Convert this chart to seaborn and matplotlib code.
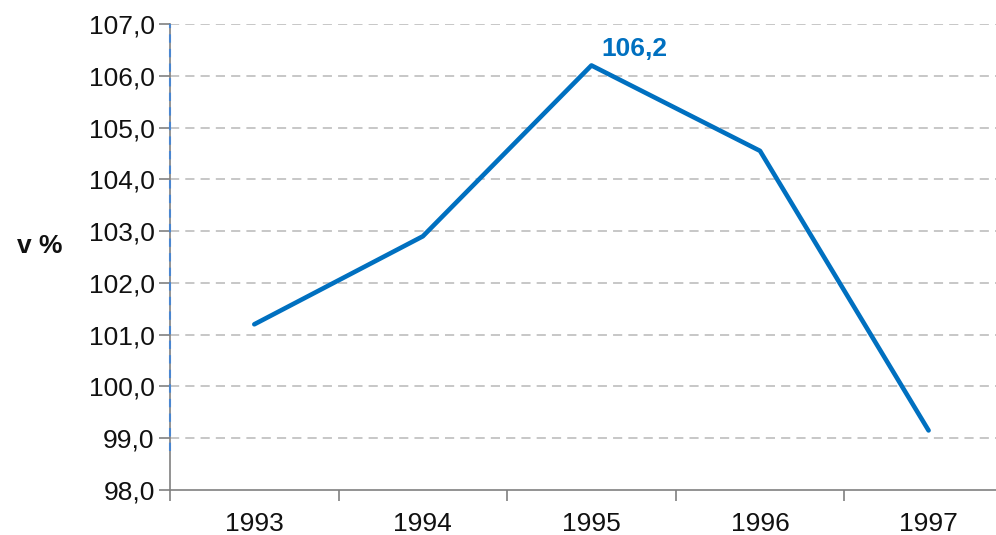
import matplotlib
matplotlib.use("Agg")
import matplotlib.pyplot as plt
import seaborn as sns
import pandas as pd
from matplotlib.ticker import FuncFormatter, FixedLocator

years = ["1993", "1994", "1995", "1996", "1997"]
values = [101.2, 102.9, 106.2, 104.55, 99.15]
y_ticks = [98, 99, 100, 101, 102, 103, 104, 105, 106, 107]
peak_label = "106,2"
y_label = "v %"

sns.set_theme(style="white")
plt.rcParams['font.family'] = ['Liberation Sans', 'DejaVu Sans']

df = pd.DataFrame({"year": years, "value": values})

fig = plt.figure(figsize=(9.96, 5.35), dpi=100)
ax = fig.add_axes([170/996, 1 - 490/535, 1 - 170/996, (490 - 24)/535])

blue = "#0070C0"
sns.lineplot(data=df, x="year", y="value", ax=ax, color=blue, linewidth=3.3,
             solid_capstyle="round", solid_joinstyle="round", sort=False)

ax.set_xlim(-0.5, 4.4)
ax.set_ylim(98, 107)
ax.yaxis.set_major_locator(FixedLocator(y_ticks))
ax.yaxis.set_major_formatter(FuncFormatter(lambda v, p: f"{v:.1f}".replace(".", ",")))
ax.set_xticks(range(len(years)))
ax.set_xticklabels(years)
ax.set_xticks([i + 0.5 for i in range(-1, len(years) - 1)], minor=True)

for y in y_ticks[1:]:
    ax.axhline(y, color="#B8B8B8", linewidth=1.1, linestyle=(0, (6, 4)), zorder=0)

for s in ["top", "right"]:
    ax.spines[s].set_visible(False)
for s in ["left", "bottom"]:
    ax.spines[s].set_color("#808080")
    ax.spines[s].set_linewidth(1.2)

ax.tick_params(axis="y", which="major", left=True, length=8, width=1.2, color="#808080",
               labelsize=19, pad=3, labelcolor="#111111")
ax.tick_params(axis="x", which="major", bottom=False, labelsize=19, pad=10, labelcolor="#111111")
ax.tick_params(axis="x", which="minor", bottom=True, length=8, width=1.2, color="#808080")

# blue dashed overlay on left spine
ax.plot([-0.5, -0.5], [98.75, 107], color="#4A86D0", linewidth=1.5,
        linestyle=(0, (4, 3)), clip_on=False, zorder=3)

ax.annotate(peak_label, xy=(2, values[2]), xytext=(7, 12), textcoords="offset points",
            color=blue, fontsize=19, fontweight="bold", ha="left", va="center")

ax.set_xlabel("")
ax.set_ylabel("")
fig.text(17/996, 1 - 246/535, y_label, fontsize=19, fontweight="bold", ha="left", va="center",
         color="#111111")

fig.savefig("out.png", dpi=100)
